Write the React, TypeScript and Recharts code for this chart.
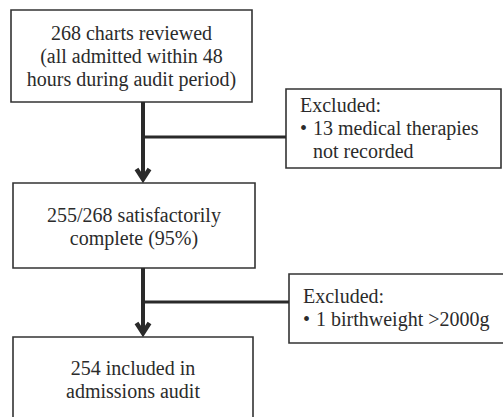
import React from 'react';
import { ComposedChart, XAxis, YAxis, ReferenceArea, ReferenceLine, Scatter } from 'recharts';

// flow steps, top to bottom
const mainSteps: string[][] = [
  ['268 charts reviewed', '(all admitted within 48', 'hours during audit period)'],
  ['255/268 satisfactorily', 'complete (95%)'],
  ['254 included in', 'admissions audit'],
];

const exclusionTitles = ['Excluded:', 'Excluded:'];
const exclusionItems: string[][] = [
  ['13 medical therapies', 'not recorded'],
  ['1 birthweight >2000g'],
];

// layout (page coordinates, y grows downward)
const W = 503;
const H = 417;
const MAIN_BOXES = [
  { x1: 11, x2: 252, y1: 10, y2: 102 },
  { x1: 13, x2: 255, y1: 183, y2: 268 },
  { x1: 13, x2: 253, y1: 337, y2: 440 },
];
const MAIN_BASELINE = [40, 222, 375];
const EXCL_BOXES = [
  { x1: 286, x2: 501, y1: 89, y2: 168 },
  { x1: 289, x2: 506, y1: 274, y2: 343 },
];
const EXCL_TEXT = [
  { x: 300, y: 112 },
  { x: 303, y: 303 },
];
const SPINE_X = 143;
const BRANCH_Y = [137, 302];
const LINE_GAP = 23;

const INK = '#2a2a2a';
const txtStyle = { fontFamily: 'Liberation Serif', fontSize: 20, fill: '#2b2b2b' };

const centerText = mainSteps.map((lines, i) => ({
  x: (MAIN_BOXES[i].x1 + MAIN_BOXES[i].x2) / 2,
  y: MAIN_BASELINE[i],
  lines,
}));

const exclText = exclusionTitles.map((title, i) => ({
  x: EXCL_TEXT[i].x,
  y: EXCL_TEXT[i].y,
  title,
  items: exclusionItems[i],
}));

const arrowTips = MAIN_BOXES.slice(1).map((b) => ({ x: SPINE_X, y: b.y1 }));

const CenterLines = (props: any) => {
  const { cx, cy, payload } = props;
  return (
    <text x={cx} y={cy} textAnchor="middle" style={txtStyle}>
      {payload.lines.map((l: string, k: number) => (
        <tspan key={k} x={cx} dy={k === 0 ? 0 : LINE_GAP}>
          {l}
        </tspan>
      ))}
    </text>
  );
};

const ExclusionLines = (props: any) => {
  const { cx, cy, payload } = props;
  const indent = 13;
  return (
    <g>
      <text x={cx} y={cy} style={txtStyle}>{payload.title}</text>
      <text x={cx} y={cy + LINE_GAP} style={txtStyle}>•</text>
      <text x={cx + indent} y={cy + LINE_GAP} style={txtStyle}>
        {payload.items.map((l: string, k: number) => (
          <tspan key={k} x={cx + indent} dy={k === 0 ? 0 : LINE_GAP}>
            {l}
          </tspan>
        ))}
      </text>
    </g>
  );
};

const Arrowhead = (props: any) => {
  const { cx, cy } = props;
  return (
    <polyline
      points={`${cx - 6.5},${cy - 14} ${cx},${cy - 4} ${cx + 6.5},${cy - 14}`}
      fill="none"
      stroke={INK}
      strokeWidth={4.5}
      strokeLinejoin="miter"
      strokeMiterlimit={10}
    />
  );
};

export default function App() {
  return (
    <div style={{ position: 'absolute', left: 0, top: 0, width: W, height: H, background: '#fff' }}>
      <ComposedChart width={W} height={H} margin={{ top: 0, right: 0, bottom: 0, left: 0 }}>
        <XAxis type="number" dataKey="x" domain={[0, W]} hide allowDataOverflow />
        <YAxis type="number" dataKey="y" domain={[0, H]} reversed hide allowDataOverflow />

        {/* connectors */}
        <ReferenceLine
          segment={[{ x: SPINE_X, y: MAIN_BOXES[0].y2 }, { x: SPINE_X, y: MAIN_BOXES[1].y1 - 4 }]}
          stroke={INK}
          strokeWidth={4}
          ifOverflow="visible"
        />
        <ReferenceLine
          segment={[{ x: SPINE_X, y: MAIN_BOXES[1].y2 }, { x: SPINE_X, y: MAIN_BOXES[2].y1 - 4 }]}
          stroke={INK}
          strokeWidth={4}
          ifOverflow="visible"
        />
        {BRANCH_Y.map((y, i) => (
          <ReferenceLine
            key={`br${i}`}
            segment={[{ x: SPINE_X, y }, { x: EXCL_BOXES[i].x1, y }]}
            stroke={INK}
            strokeWidth={3}
            ifOverflow="visible"
          />
        ))}

        {/* boxes */}
        {MAIN_BOXES.map((b, i) => (
          <ReferenceArea
            key={`m${i}`}
            x1={b.x1}
            x2={b.x2}
            y1={b.y1}
            y2={b.y2}
            fill="#fff"
            fillOpacity={1}
            stroke="#333"
            strokeWidth={1.6}
            ifOverflow="visible"
          />
        ))}
        {EXCL_BOXES.map((b, i) => (
          <ReferenceArea
            key={`e${i}`}
            x1={b.x1}
            x2={b.x2}
            y1={b.y1}
            y2={b.y2}
            fill="#fff"
            fillOpacity={1}
            stroke="#333"
            strokeWidth={1.6}
            ifOverflow="visible"
          />
        ))}

        <Scatter data={arrowTips} shape={Arrowhead} isAnimationActive={false} />
        <Scatter data={centerText} shape={CenterLines} isAnimationActive={false} />
        <Scatter data={exclText} shape={ExclusionLines} isAnimationActive={false} />
      </ComposedChart>
    </div>
  );
}
